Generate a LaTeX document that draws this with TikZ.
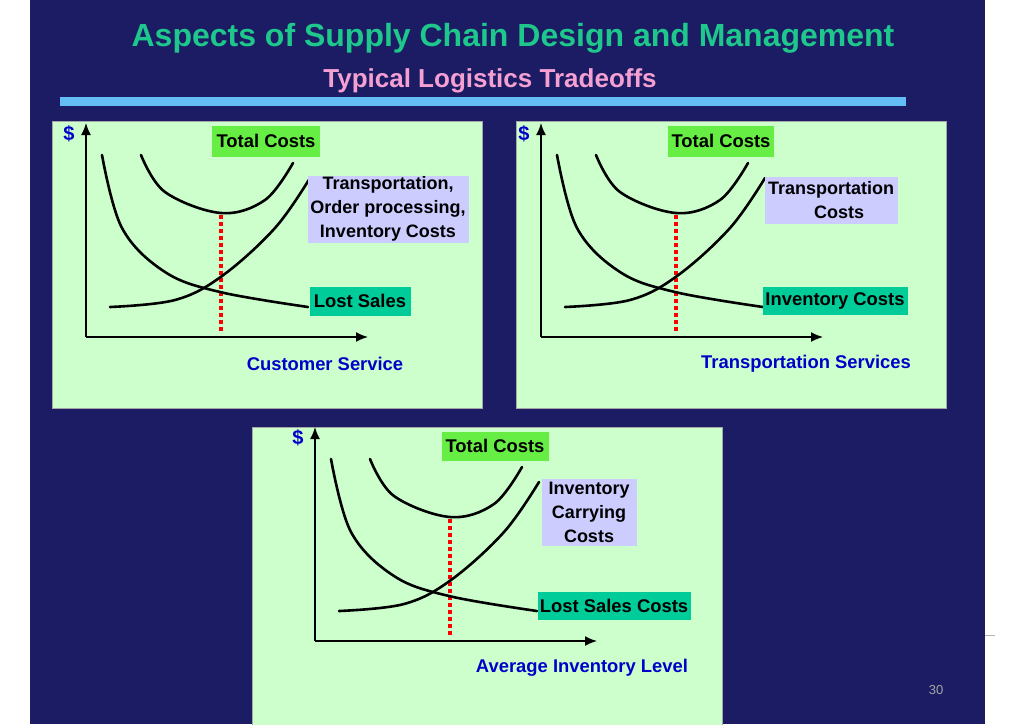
\documentclass[tikz,border=0pt]{standalone}
\usepackage{fontspec}
\setmainfont{Liberation Sans}
\definecolor{navy}{RGB}{28,28,100}
\definecolor{panel}{RGB}{204,255,204}
\definecolor{ttl}{RGB}{30,200,140}
\definecolor{sub}{RGB}{245,160,210}
\definecolor{bar}{RGB}{100,190,245}
\definecolor{tot}{RGB}{102,238,68}
\definecolor{lav}{RGB}{204,204,255}
\definecolor{sea}{RGB}{0,204,153}
\definecolor{axlab}{RGB}{0,0,200}
\tikzset{
 pbox/.style={fill=panel,draw=gray!70,line width=1pt},
 lbl/.style={font=\bfseries\fontsize{18.4}{22}\selectfont,inner sep=0pt,align=center},
 lbl3/.style={lbl,font=\bfseries\fontsize{18}{24}\selectfont},
 curve/.style={line width=2.6pt,line cap=round},
 axis/.style={line width=1.6pt,-{Latex[length=12pt,width=10pt]}},
 reddot/.style={red,line width=3.2pt,dash pattern=on 3.5pt off 3.5pt},
}
\usetikzlibrary{arrows.meta}
\begin{document}
\begin{tikzpicture}[x=1pt,y=-1pt]
\useasboundingbox (0,0) rectangle (1024,724);
\fill[white] (0,0) rectangle (1024,724);
\fill[navy] (30,0) rectangle (985,724);
\draw[gray!60,line width=0.6pt] (985,635) -- (995,635);
\node[gray!70,font=\fontsize{13}{15}\selectfont\rmfamily] (pg) at (936,690) {30};
\node[ttl,font=\bfseries\fontsize{32}{36}\selectfont] (title) at (513,38) {Aspects of Supply Chain Design and Management};
\node[sub,font=\bfseries\fontsize{26}{30}\selectfont] (subtitle) at (490,81) {Typical Logistics Tradeoffs};
\fill[bar] (60,97) rectangle (906,106);
\draw[pbox] (52,121) rectangle (482,408);
\draw[pbox] (516,121) rectangle (946,408);
\draw[pbox] (252,427) rectangle (722,728);
\foreach \dx/\dy/\n in {0/0/a,455/0/b,229/304/c}{
 \begin{scope}[shift={(\dx,\dy)}]
  \draw[axis] (86,337) -- (86,123);
  \draw[axis] (86,337) -- (368,337);
  \node[axlab,font=\bfseries\fontsize{20}{22}\selectfont] (dol\n) at (69,134) {\$};
  \draw[reddot] (221,215) -- (221,334);
  \draw[curve] plot[smooth,tension=0.6] coordinates {(141,155) (165,192) (221,213) (265,200) (293,163)};
  \draw[curve] plot[smooth,tension=0.6] coordinates {(102,155) (122,228) (165,272) (220,292) (308,307)};
  \draw[curve] plot[smooth,tension=0.6] coordinates {(110,307) (175,300) (222,276) (275,228) (310,178)};
 \end{scope}
}
% panel 1 labels
\node[lbl,fill=tot,minimum width=108pt,minimum height=31pt] (t1) at (266,141) {Total Costs};
\node[lbl3,fill=lav,minimum width=161pt,minimum height=67pt] (c1) at (388,209) {Transportation,\\Order processing,\\Inventory Costs};
\node[lbl,fill=sea,minimum width=101pt,minimum height=29pt] (l1) at (360,301) {Lost Sales};
\node[lbl,axlab] (x1) at (325,364) {Customer Service};
% panel 2 labels
\node[lbl,fill=tot,minimum width=106pt,minimum height=31pt] (t2) at (721,141) {Total Costs};
\node[lbl3,fill=lav,minimum width=133pt,minimum height=47pt] (c2) at (831,200) {Transportation\\\hspace*{16pt}Costs};
\node[lbl,fill=sea,minimum width=145pt,minimum height=28pt] (l2) at (835,301) {Inventory Costs};
\node[lbl,axlab] (x2) at (806,364) {Transportation Services};
% panel 3 labels
\node[lbl,fill=tot,minimum width=107pt,minimum height=29pt] (t3) at (495,446) {Total Costs};
\node[lbl3,fill=lav,minimum width=95pt,minimum height=67pt] (c3) at (589,512) {Inventory\\Carrying\\Costs};
\node[lbl,fill=sea,minimum width=153pt,minimum height=28pt] (l3) at (614,606) {Lost Sales Costs};
\node[lbl,axlab] (x3) at (582,668) {Average Inventory Level};
\end{tikzpicture}
\end{document}
